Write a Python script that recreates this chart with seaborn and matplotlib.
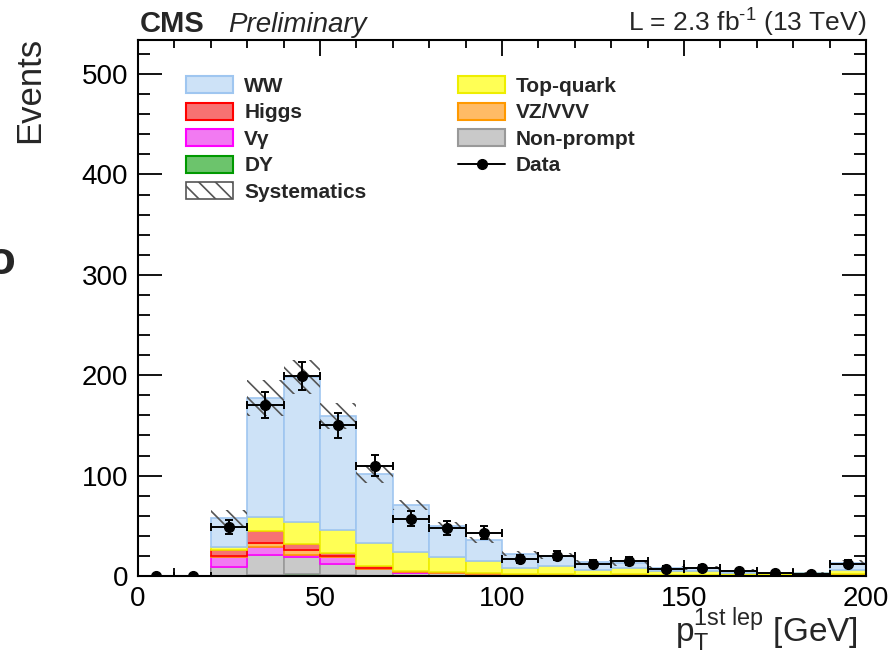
import numpy as np
import pandas as pd
import matplotlib
matplotlib.use('Agg')
import matplotlib.pyplot as plt
from matplotlib.patches import Patch
from matplotlib.lines import Line2D
import matplotlib.colors as mcolors
import seaborn as sns

# binning of the leading lepton pT (GeV)
edges = list(range(0, 201, 10))
centers = [e + 5 for e in edges[:-1]]

# observed events per bin
data_events = [0, 0, 49, 170, 199, 150, 110, 57, 48, 43, 17, 20, 12, 15, 7, 8, 5, 3, 2, 12]

# stacked backgrounds
ww = [0, 0, 29, 118.5, 145, 113.6, 69, 47.5, 31.4, 21, 14, 9.7, 7.5, 5.7, 3.3, 3, 1.7, 0.5, 0.5, 7]
top = [0, 0, 3, 14, 21.8, 23, 22.7, 18.5, 14.6, 11.8, 6.5, 8.6, 4.7, 5.9, 4, 4, 2.5, 1.3, 1.3, 3.6]
higgs = [0, 0, 6, 12, 6, 3, 1.5, 0.5, 0.2, 0.2, 0.1, 0.1, 0.1, 0.1, 0, 0, 0, 0, 0, 0.1]
vzvvv = [0, 0, 1.5, 4, 5, 1.5, 1, 1, 1, 0.8, 0.5, 0.3, 0.4, 0.3, 0.4, 0.4, 0.3, 0.2, 0.2, 0.3]
vgamma = [0, 0, 9.3, 8, 1.5, 6.6, 0.5, 0.3, 0.2, 0.2, 0.2, 1, 0.3, 1, 0.3, 0.3, 0.2, 0.2, 0.2, 1.5]
nonprompt = [0, 0, 9.3, 20, 17.7, 11, 6.5, 3, 2.5, 2, 1, 0.3, 0.5, 0.3, 0.3, 0.3, 0.3, 0.8, 0.8, 0.5]
dy = [0, 0, 0, 1, 1.5, 1, 0.3, 0.2, 0.1, 0, 0, 0, 0, 0, 0, 0, 0, 0, 0, 0]
syst = [0, 0, 8, 18, 17, 13, 9, 5, 3.5, 3, 2.5, 3, 2.5, 3, 2, 2, 1.5, 1, 1, 2.5]

# processes, top of stack first (seaborn puts the first hue level on top)
procs = ['WW', 'Top-quark', 'Higgs', 'VZ/VVV', 'Vγ', 'Non-prompt', 'DY']
values = [ww, top, higgs, vzvvv, vgamma, nonprompt, dy]
face = ['#cde2f7', '#ffff55', '#f77272', '#ffbb66', '#f27af2', '#c9c9c9', '#6cc46c']
edge = ['#9fc6f0', '#eeee00', '#ff0000', '#ff9900', '#ff00ff', '#999999', '#009900']

rows = []
for p, v in zip(procs, values):
    for c, w in zip(centers, v):
        rows.append({'pt': c, 'events': w, 'process': p})
df = pd.DataFrame(rows)

sns.set_theme(style='ticks')
plt.rcParams['font.family'] = ['Liberation Sans', 'DejaVu Sans']
plt.rcParams['mathtext.fontset'] = 'custom'
plt.rcParams['mathtext.rm'] = 'Liberation Sans'
plt.rcParams['mathtext.it'] = 'Liberation Sans:italic'
plt.rcParams['mathtext.bf'] = 'Liberation Sans:bold'
plt.rcParams['hatch.linewidth'] = 1.2

fig = plt.figure(figsize=(8.94, 6.59), dpi=100)
ax = fig.add_axes([0.1544, 0.1260, 0.8143, 0.8133])

sns.histplot(data=df, x='pt', weights='events', hue='process', hue_order=procs,
             multiple='stack', bins=edges, palette=dict(zip(procs, face)),
             element='bars', alpha=1, linewidth=1.2, legend=False, ax=ax)

# give each stacked histogram its own outline colour
fmap = {tuple(np.round(mcolors.to_rgb(f), 3)): e for f, e in zip(face, edge)}
for patch in ax.patches:
    key = tuple(np.round(patch.get_facecolor()[:3], 3))
    if key in fmap:
        patch.set_edgecolor(fmap[key])

# systematic band around the total
total = np.sum(np.array(values), axis=0)
err = np.array(syst)
ax.bar(centers, 2 * err, bottom=total - err, width=10, facecolor='none',
       edgecolor='#555555', hatch='\\\\', linewidth=0)

# data
ax.errorbar(centers, data_events, xerr=5, yerr=np.sqrt(data_events), fmt='o',
            color='black', ms=7, capsize=3, elinewidth=1.4, capthick=1.4)

ax.set_xlim(0, 200)
ax.set_ylim(0, 534)
ax.set_xlabel('')
ax.set_ylabel('')
ax.set_xticks([0, 50, 100, 150, 200])
ax.set_xticks(np.arange(0, 201, 10), minor=True)
ax.set_yticks([0, 100, 200, 300, 400, 500])
ax.set_yticks(np.arange(0, 534, 20), minor=True)
ax.tick_params(which='both', direction='in', top=True, right=True, width=1.3, colors='black')
ax.tick_params(axis='y', which='major', length=17, labelsize=20, pad=7)
ax.tick_params(axis='y', which='minor', length=8.5)
ax.tick_params(axis='x', which='major', length=11.5, labelsize=20, pad=7)
ax.tick_params(axis='x', which='minor', length=5.8)
for s in ax.spines.values():
    s.set_linewidth(1.5)
    s.set_color('black')

# legend
handles = [
    Patch(facecolor=face[0], edgecolor=edge[0], lw=1.5, label='WW'),
    Patch(facecolor=face[2], edgecolor=edge[2], lw=1.5, label='Higgs'),
    Patch(facecolor=face[4], edgecolor=edge[4], lw=1.5, label='Vγ'),
    Patch(facecolor=face[6], edgecolor=edge[6], lw=1.5, label='DY'),
    Patch(facecolor='white', edgecolor='#555555', hatch='\\\\', lw=1.2, label='Systematics'),
    Patch(facecolor=face[1], edgecolor=edge[1], lw=1.5, label='Top-quark'),
    Patch(facecolor=face[3], edgecolor=edge[3], lw=1.5, label='VZ/VVV'),
    Patch(facecolor=face[5], edgecolor=edge[5], lw=1.5, label='Non-prompt'),
    Line2D([0], [0], color='black', marker='o', ms=7, lw=1.4, label='Data'),
]
ax.legend(handles=handles, ncol=2, loc='upper left', bbox_to_anchor=(0.052, 0.952),
          frameon=False, borderpad=0, handlelength=2.25, handleheight=0.87,
          handletextpad=0.53, labelspacing=0.33, columnspacing=4.4,
          prop={'family': 'Liberation Sans', 'weight': 'bold', 'size': 15})

# header and axis titles
fig.text(140 / 894, 1 - 32 / 659, 'CMS', fontsize=21, fontweight='bold', ha='left', va='baseline')
fig.text(228 / 894, 1 - 32 / 659, 'Preliminary', fontsize=20, style='italic', ha='left', va='baseline')
fig.text(866 / 894, 1 - 32 / 659, r'L = 2.3 fb$^{\text{-1}}$ (13 TeV)', fontsize=19, ha='right', va='baseline')
fig.text(30 / 894, 1 - 37 / 659, 'Events', fontsize=25, rotation=90, ha='center', va='top')
fig.text(858 / 894, 1 - 642 / 659, r'$\mathrm{p}_{\mathrm{T}}^{\mathrm{1st\ lep}}$ [GeV]',
         fontsize=24, ha='right', va='baseline')
# cut-off glyph at the left border
fig.text(1 / 894, 1 - 262 / 659, 'o', fontsize=34, fontweight='bold', ha='center', va='center')

fig.savefig('out.png', dpi=100)
